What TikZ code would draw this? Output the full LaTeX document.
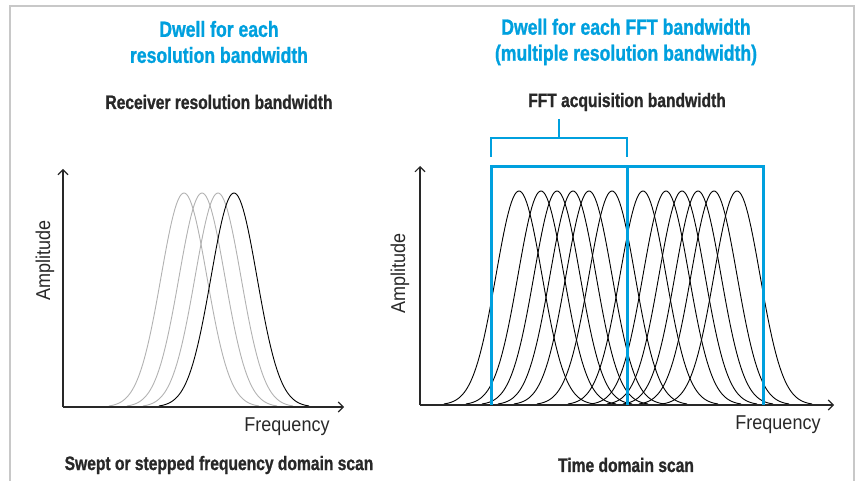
\documentclass[tikz,border=0pt]{standalone}
\usepackage{fontspec}
\setmainfont{Liberation Sans}
\newfontfamily\headfont{Liberation Sans}[FakeStretch=0.8, FakeBold=1]
\newfontfamily\axisfont{Liberation Sans}[FakeStretch=0.9]
\usepackage{tikz}
\usetikzlibrary{arrows.meta}
\definecolor{scanblue}{RGB}{0,160,222}
\definecolor{framegray}{RGB}{200,200,200}
\definecolor{ghostgray}{RGB}{178,178,178}
\definecolor{inkgray}{RGB}{40,40,40}
\tikzset{
  bell/.style = {line width=0.9pt, black},
  ghost/.style = {line width=0.9pt, ghostgray},
  axis/.style = {-{Straight Barb[length=5pt, width=10pt]}, line width=1.1pt, inkgray},
  title/.style = {font=\headfont\bfseries\fontsize{22}{26}\selectfont, text=scanblue, align=center},
  caption/.style = {font=\headfont\bfseries\fontsize{19.5}{23}\selectfont, text=inkgray},
  axislabel/.style = {font=\axisfont\fontsize{20}{24}\selectfont, text=inkgray},
}
\begin{document}
\begin{tikzpicture}[x = 1pt, y = -1pt, samples = 90]
          \useasboundingbox (0,0) rectangle (855,481);
          % frame
          \draw[framegray, line width=1.5pt] (10,481) |- (854,6) -- (854,481);
          % titles
          \node[title] (dwellRbw) at (219,42) {Dwell for each\\resolution bandwidth};
          \node[title] (dwellFft) at (626,42) {Dwell for each FFT bandwidth\\(multiple resolution bandwidth)};
          \node[caption] (rbwLabel) at (219,102) {Receiver resolution bandwidth};
          \node[caption] (fftLabel) at (627,102) {FFT acquisition bandwidth};
          \node[caption] (sweptLabel) at (219,465) {Swept or stepped frequency domain scan};
          \node[caption] (timeLabel) at (626,465) {Time domain scan};
          % left: swept receiver
          \foreach \c in {184,202,218}
            \draw[ghost] plot[domain = \c-75:\c+75] (\x, {407 - 214*exp(-((\x-\c)*(\x-\c))/1058)});
          \draw[bell] plot[domain = 234-75:234+75] (\x, {407 - 214*exp(-((\x-234)*(\x-234))/1058)});
          \coordinate (oL) at (63,407);
          \draw[axis] (oL) -- (63,169);
          \draw[axis] (oL) -- (344,407);
          \node[axislabel, rotate=90] (ampL) at (45,260) {Amplitude};
          \node[axislabel] (freqL) at (287,427) {Frequency};
          % right: FFT bins
          \foreach \c in {519,541,557,573,589,612,643,666,682,698,714,737}
            \draw[bell] plot[domain = \c-75:\c+75] (\x, {405 - 214*exp(-((\x-\c)*(\x-\c))/1058)});
          \coordinate (oR) at (420,405);
          \draw[axis] (oR) -- (420,166);
          \draw[axis] (oR) -- (834,405);
          \node[axislabel, rotate=90] (ampR) at (400,273) {Amplitude};
          \node[axislabel] (freqR) at (778,425) {Frequency};
          % FFT acquisition spans
          \draw[scanblue, line width=3pt] (491,405) -- (491,167) -- (763,167) -- (763,405);
          \draw[scanblue, line width=3pt] (627,167) -- (627,405);
          \draw[scanblue, line width=1.3pt] (491,157) |- (627,138) -- (627,157);
          \draw[scanblue, line width=1.6pt] (559,119) -- (559,138);
        \end{tikzpicture}
\end{document}
